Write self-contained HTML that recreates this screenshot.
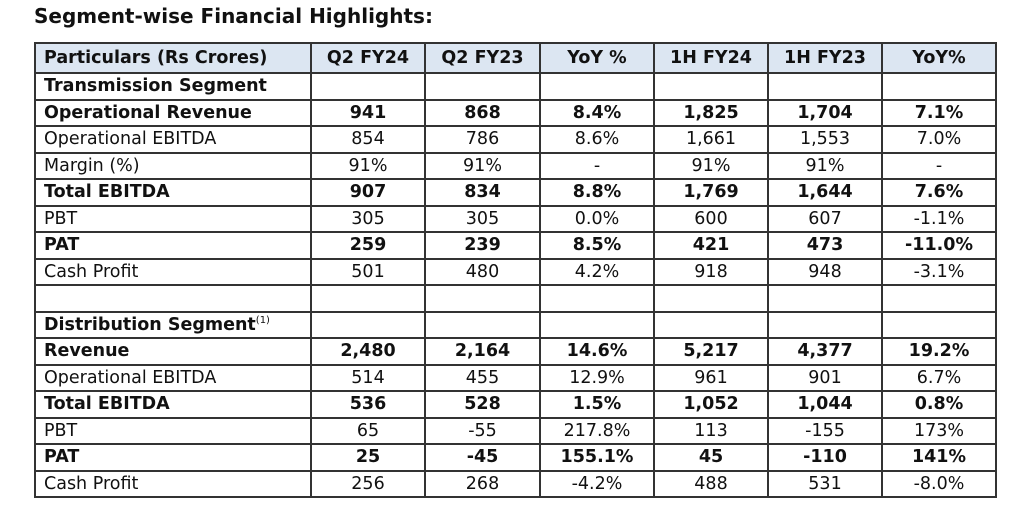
<!DOCTYPE html>
<html><head><style>
body{margin:0;background:#fff;width:1024px;height:515px;overflow:hidden;font-family:"DejaVu Sans","Liberation Sans",sans-serif;color:#111}
h1{position:absolute;left:34px;top:4px;margin:0;font-size:20px;font-weight:bold}
table{position:absolute;left:34px;top:42px;border-collapse:collapse;width:961px;table-layout:fixed;font-size:17.5px}
td{border:2px solid #333;height:24.5px;padding:0 0 0 8px;line-height:20px;white-space:nowrap;overflow:hidden}
td+td{text-align:center;padding:0}
tr.h td{background:#dce6f2;font-weight:bold;height:28px}
tr.b td{font-weight:bold}
sup{font-size:10px;font-weight:normal;line-height:0;vertical-align:7px}
</style></head><body>
<h1>Segment-wise Financial Highlights:</h1>
<table>
<colgroup><col style="width:276px"><col style="width:114px"><col style="width:115px"><col style="width:114px"><col style="width:114px"><col style="width:114px"><col style="width:114px"></colgroup>
<tr class="h"><td>Particulars (Rs Crores)</td><td>Q2 FY24</td><td>Q2 FY23</td><td>YoY %</td><td>1H FY24</td><td>1H FY23</td><td>YoY%</td></tr>
<tr class="b"><td>Transmission Segment</td><td></td><td></td><td></td><td></td><td></td><td></td></tr>
<tr class="b"><td>Operational Revenue</td><td>941</td><td>868</td><td>8.4%</td><td>1,825</td><td>1,704</td><td>7.1%</td></tr>
<tr><td>Operational EBITDA</td><td>854</td><td>786</td><td>8.6%</td><td>1,661</td><td>1,553</td><td>7.0%</td></tr>
<tr><td>Margin (%)</td><td>91%</td><td>91%</td><td>-</td><td>91%</td><td>91%</td><td>-</td></tr>
<tr class="b"><td>Total EBITDA</td><td>907</td><td>834</td><td>8.8%</td><td>1,769</td><td>1,644</td><td>7.6%</td></tr>
<tr><td>PBT</td><td>305</td><td>305</td><td>0.0%</td><td>600</td><td>607</td><td>-1.1%</td></tr>
<tr class="b"><td>PAT</td><td>259</td><td>239</td><td>8.5%</td><td>421</td><td>473</td><td>-11.0%</td></tr>
<tr><td>Cash Profit</td><td>501</td><td>480</td><td>4.2%</td><td>918</td><td>948</td><td>-3.1%</td></tr>
<tr><td></td><td></td><td></td><td></td><td></td><td></td><td></td></tr>
<tr class="b"><td>Distribution Segment<sup>(1)</sup></td><td></td><td></td><td></td><td></td><td></td><td></td></tr>
<tr class="b"><td>Revenue</td><td>2,480</td><td>2,164</td><td>14.6%</td><td>5,217</td><td>4,377</td><td>19.2%</td></tr>
<tr><td>Operational EBITDA</td><td>514</td><td>455</td><td>12.9%</td><td>961</td><td>901</td><td>6.7%</td></tr>
<tr class="b"><td>Total EBITDA</td><td>536</td><td>528</td><td>1.5%</td><td>1,052</td><td>1,044</td><td>0.8%</td></tr>
<tr><td>PBT</td><td>65</td><td>-55</td><td>217.8%</td><td>113</td><td>-155</td><td>173%</td></tr>
<tr class="b"><td>PAT</td><td>25</td><td>-45</td><td>155.1%</td><td>45</td><td>-110</td><td>141%</td></tr>
<tr><td>Cash Profit</td><td>256</td><td>268</td><td>-4.2%</td><td>488</td><td>531</td><td>-8.0%</td></tr>
</table>
</body></html>
